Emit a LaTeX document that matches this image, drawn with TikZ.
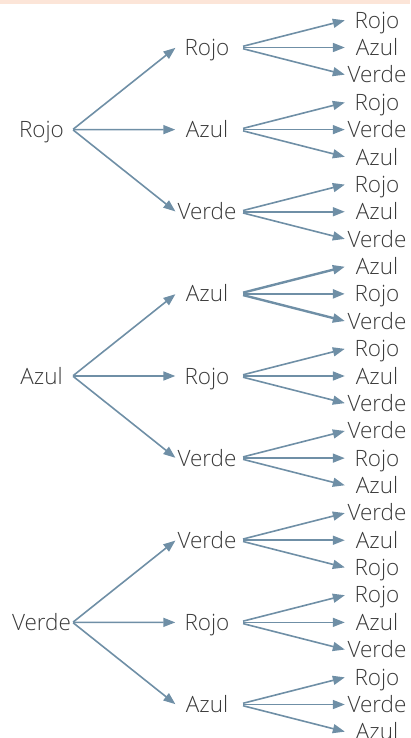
\documentclass[tikz,border=0pt]{standalone}
\usepackage{fontspec}
\setmainfont{Open Sans}[UprightFont=* Light]
\usetikzlibrary{arrows.meta}
\definecolor{arr}{HTML}{6F8FA6}
\definecolor{txt}{HTML}{3A3A3A}
\definecolor{band}{HTML}{FCE5D8}
\begin{document}
\begin{tikzpicture}[x=1pt,y=-1pt,
  lbl/.style={font=\fontsize{22.5}{26}\selectfont, text=txt, inner sep=0pt,
    minimum width=62pt, text height=16pt, text depth=0pt, anchor=center},
  arw/.style={draw=arr, line width=1.6pt, -{Triangle[length=12pt,width=9pt]}},
  arwb/.style={arw, line width=2.4pt}]
\useasboundingbox (0,0) rectangle (410,738);
\fill[band] (0,0) rectangle (410,4);
% level 2
\foreach \t [count=\i from 0] in {Rojo,Azul,Verde,Azul,Rojo,Verde,Verde,Rojo,Azul}{
  \pgfmathsetmacro{\yy}{47.5+82.125*\i}
  \node[lbl] (b\i) at (207,\yy) {\t};
}
% level 1
\node[lbl] (a0) at (41.5,129.6) {Rojo};
\node[lbl] (a1) at (41.5,376) {Azul};
\node[lbl] (a2) at (41.5,622.4) {Verde};
% level 3
\foreach \t [count=\i from 0] in {Rojo,Azul,Verde, Rojo,Verde,Azul, Rojo,Azul,Verde,
    Azul,Rojo,Verde, Rojo,Azul,Verde, Verde,Rojo,Azul,
    Verde,Azul,Rojo, Rojo,Azul,Verde, Rojo,Verde,Azul}{
  \pgfmathtruncatemacro{\g}{int(\i/3)}
  \pgfmathtruncatemacro{\j}{\i-3*\g}
  \pgfmathsetmacro{\yy}{47.5+82.125*\g+27.4*(\j-1)}
  \node[lbl] (c\i) at (377,\yy) {\t};
}
% arrows level 1 -> 2
\foreach \a/\b in {a0/b0,a0/b1,a0/b2,a1/b3,a1/b4,a1/b5,a2/b6,a2/b7,a2/b8}{
  \draw[arw, shorten <=0.5pt, shorten >=0.5pt] (\a.east) -- (\b.west);
}
% arrows level 2 -> 3
\foreach \g in {0,1,2,4,5,6,7,8}{
  \foreach \j in {0,1,2}{
    \pgfmathtruncatemacro{\k}{3*\g+\j}
    \draw[arw, shorten <=5pt, shorten >=1pt] (b\g.east) -- (c\k.west);
  }
}
\foreach \k in {9,10,11}{
  \draw[arwb, shorten <=5pt, shorten >=1pt] (b3.east) -- (c\k.west);
}
\end{tikzpicture}
\end{document}
